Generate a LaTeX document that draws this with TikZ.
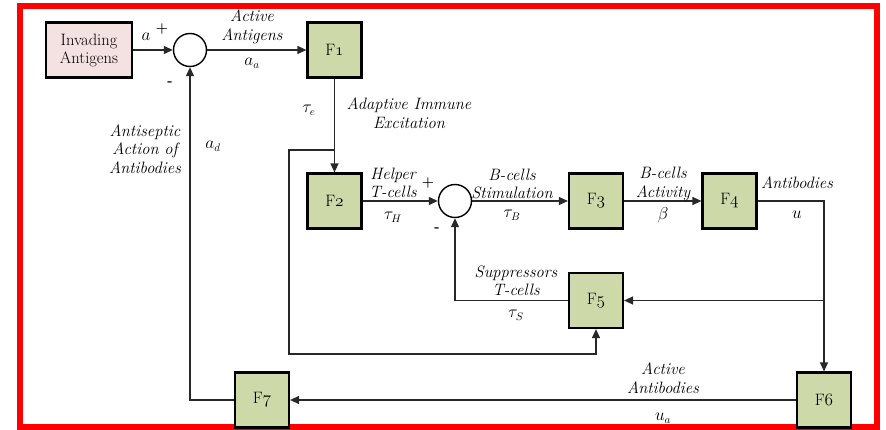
\documentclass[tikz,border=0pt]{standalone}
\usetikzlibrary{arrows.meta}
\definecolor{boxgreen}{RGB}{205,217,169}
\definecolor{boxpink}{RGB}{244,226,226}
\definecolor{wirecol}{RGB}{40,40,40}
\begin{document}
\begin{tikzpicture}[x=1pt,y=-1pt,
  blk/.style={draw=black, line width=2.2pt, fill=boxgreen, minimum width=54pt,
    minimum height=55pt, inner sep=0pt, font=\fontsize{16.5}{18}\selectfont},
  src/.style={blk, fill=boxpink, minimum width=86pt, align=center},
  sumpt/.style={circle, draw=black, line width=1.4pt, fill=white,
    minimum size=33pt, inner sep=0pt},
  wire/.style={draw=wirecol, line width=1.3pt},
  flow/.style={wire, -{Triangle[length=9pt,width=8pt]}},
  lbl/.style={align=center, font=\fontsize{16.5}{18.5}\selectfont\itshape, inner sep=0pt},
  sym/.style={font=\fontsize{16}{18}\selectfont, inner sep=0pt},
  sgn/.style={font=\fontsize{14}{15}\selectfont\bfseries, inner sep=0pt}]
\useasboundingbox (0,0) rectangle (886,430);
\draw[red, line width=6pt] (20,6) rectangle (877,427);

% blocks
\node[src]   (inv) at (89,50)      {Invading\\Antigens};
\node[sumpt] (s1)  at (190,50)     {};
\node[blk]   (F1)  at (334.5,50)   {F$\mathnormal{1}$};
\node[blk]   (F2)  at (334.5,201)  {F$\mathnormal{2}$};
\node[sumpt] (s2)  at (455,201)    {};
\node[blk]   (F3)  at (596,201)    {F$\mathnormal{3}$};
\node[blk]   (F4)  at (729.5,201)  {F$\mathnormal{4}$};
\node[blk]   (F5)  at (596,300.5)  {F$\mathnormal{5}$};
\node[blk]   (F6)  at (824,400)    {F$\mathnormal{6}$};
\node[blk]   (F7)  at (262,400)    {F$\mathnormal{7}$};

% branch points
\coordinate (j1) at (334.5,150);
\coordinate (j3) at (F6 |- F5);

% signal paths
\draw[flow] (inv) -- (s1);
\draw[flow] (s1) -- (F1);
\draw[flow] (F1) -- (F2);
\draw[flow] (j1) -| (289,354) -| (F5.south);
\draw[flow] (F2) -- (s2);
\draw[flow] (s2) -- (F3);
\draw[flow] (F3) -- (F4);
\draw[flow] (F4.east) -| (F6.north);
\draw[flow] (j3) -- (F5.east);
\draw[flow] (F5.west) -| (s2.south);
\draw[flow] (F6) -- (F7);
\draw[flow] (F7.west) -| (s1.south);

% labels
\node[sym] at (146,37) {$a$};
\node[sgn] at (162,29) {+};
\node[sgn] at (170,84) {-};
\node[lbl] at (252,27) {Active\\Antigens};
\node[sym] at (252,63) {$a_a$};
\node[sym] at (309,110) {$\tau_e$};
\node[lbl] at (409,113) {Adaptive Immune\\Excitation};
\node[lbl] at (145,149) {Antiseptic\\Action of\\Antibodies};
\node[sym] at (213,146) {$a_d$};
\node[lbl] at (393,183) {Helper\\T-cells};
\node[sgn] at (428,183) {+};
\node[sym] at (393,217) {$\tau_H$};
\node[sgn] at (437,230) {-};
\node[lbl] at (512,184) {B-cells\\Stimulation};
\node[sym] at (512,215) {$\tau_B$};
\node[lbl] at (663,184) {B-cells\\Activity};
\node[sym] at (663,215) {$\beta$};
\node[lbl] at (797,183) {Antibodies};
\node[sym] at (797,215) {$u$};
\node[lbl] at (516,281) {Suppressors\\T-cells};
\node[sym] at (516,315) {$\tau_S$};
\node[lbl] at (663,378) {Active\\Antibodies};
\node[sym] at (663,418) {$u_a$};
\end{tikzpicture}
\end{document}
